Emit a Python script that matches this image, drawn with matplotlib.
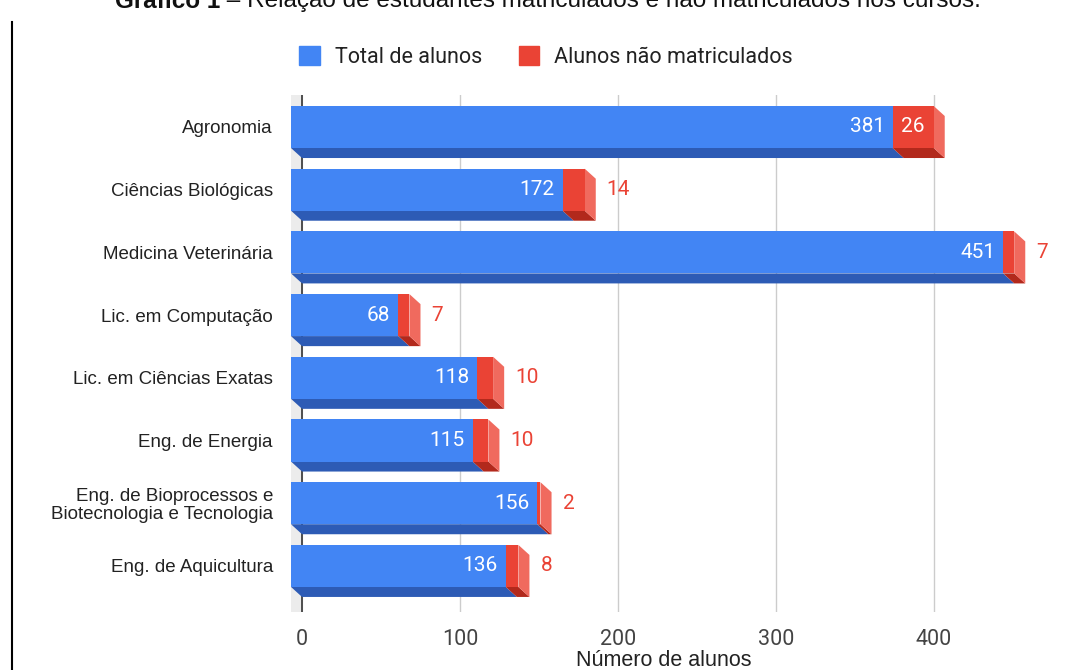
import matplotlib
matplotlib.use("Agg")
import matplotlib.pyplot as plt
from matplotlib.patches import Polygon, Patch
from matplotlib.lines import Line2D

cursos = ["Agronomia", "Ciências Biológicas", "Medicina Veterinária",
          "Lic. em Computação", "Lic. em Ciências Exatas", "Eng. de Energia",
          "Eng. de Bioprocessos e\nBiotecnologia e Tecnologia", "Eng. de Aquicultura"]
total_alunos = [381, 172, 451, 68, 118, 115, 156, 136]
nao_matriculados = [26, 14, 7, 7, 10, 10, 2, 8]
x_ticks = [0, 100, 200, 300, 400]

azul, azul_esc = "#4285f4", "#2d5bb5"
verm, verm_esc, verm_clr = "#ea4335", "#b2291c", "#f06a5e"

fig = plt.figure(figsize=(10.65, 6.7), dpi=100)
ax = fig.add_axes([291 / 1065, 58 / 670, 769 / 1065, 517 / 670])
ax.set_xlim(-7, 480)
ax.set_ylim(7.735, -0.51)

dx = 7      # profundidade 3D em unidades de x
dy = 0.16   # profundidade 3D em unidades de y
h = 0.67

# parede lateral e grade
ax.axvspan(-dx, 0, color="#ececec", zorder=0)
for t in x_ticks[1:]:
    ax.axvline(t, color="#cccccc", lw=1, zorder=0.5)
ax.axvline(0, color="#333333", lw=1.2, zorder=0.6)

for i, (t, n) in enumerate(zip(total_alunos, nao_matriculados)):
    top, bot = i - h / 2, i + h / 2
    tot = t + n
    # faces de baixo
    ax.add_patch(Polygon([(-dx, bot), (t - dx, bot), (t, bot + dy), (0, bot + dy)],
                         closed=True, color=azul_esc, zorder=2, lw=0))
    ax.add_patch(Polygon([(t - dx, bot), (tot - dx, bot), (tot, bot + dy), (t, bot + dy)],
                         closed=True, color=verm_esc, zorder=2, lw=0))
    # face lateral direita
    ax.add_patch(Polygon([(tot - dx, top), (tot, top + dy), (tot, bot + dy), (tot - dx, bot)],
                         closed=True, color=verm_clr, zorder=2, lw=0))
    # faces frontais
    ax.barh(i, t, left=-dx, height=h, color=azul, zorder=3)
    ax.barh(i, n, left=t - dx, height=h, color=verm, zorder=3)

    ax.text(t - dx - 5, i, str(t), color="white", ha="right", va="center",
            fontsize=15, family="Roboto", zorder=4)
    if n >= 20:
        ax.text(t - dx + n / 2, i, str(n), color="white", ha="center", va="center",
                fontsize=15, family="Roboto", zorder=4)
    else:
        ax.text(tot + 7, i, str(n), color=verm, ha="left", va="center",
                fontsize=15, family="Roboto", zorder=4)

ax.set_yticks(range(len(cursos)))
ax.set_yticklabels(cursos, fontsize=13.5, family="Liberation Sans", color="#222222",
                   linespacing=1.05)
ax.set_xticks(x_ticks)
ax.set_xticklabels([str(v) for v in x_ticks], fontsize=15.5, family="Roboto", color="#444444")
ax.tick_params(axis="y", length=0, pad=13)
ax.tick_params(axis="x", length=0, pad=12)
for s in ax.spines.values():
    s.set_visible(False)
ax.set_xlabel("Número de alunos", fontsize=15.5, family="Liberation Sans",
              color="#222222")
ax.xaxis.set_label_coords((664 - 291) / 769, -0.074)
ax.set_facecolor("white")

fig.legend(handles=[Patch(color=azul, label="Total de alunos"),
                    Patch(color=verm, label="Alunos não matriculados")],
           loc="center", bbox_to_anchor=(546 / 1065, 1 - 57 / 670), ncol=2,
           frameon=False, handlelength=0.95, handleheight=0.95, handletextpad=0.7,
           columnspacing=1.7, prop={"family": "Roboto", "size": 15.5},
           labelcolor="#222222")

# título (cortado no topo, como no original)
ty = 1 - 1 / 670
t1 = fig.text(115 / 1065, ty, "Gráfico 1", fontsize=17.5, fontweight="bold",
              family="Liberation Sans", color="#111111", va="center", ha="left")
fig.canvas.draw()
bb = t1.get_window_extent()
fig.text(bb.x1 / 1065, ty,
         " – Relação de estudantes matriculados e não matriculados nos cursos.",
         fontsize=17.5, family="Liberation Sans", color="#111111", va="center", ha="left")

fig.add_artist(Line2D([12 / 1065, 12 / 1065], [0, 1 - 22 / 670], color="black", lw=1.5))

fig.savefig("out.png", dpi=100)
